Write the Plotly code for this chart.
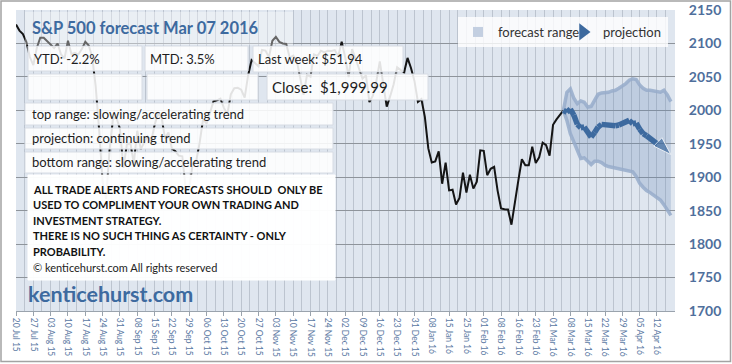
import pandas as pd
import plotly.graph_objects as go

# ---------------- data ----------------
holidays = ["2015-09-07", "2015-11-26", "2015-12-25", "2016-01-01", "2016-01-18", "2016-02-15"]
hist_days = list(pd.bdate_range("2015-07-20", "2016-03-04", freq="C", holidays=holidays))
fc_days = list(pd.bdate_range("2016-03-07", "2016-04-19"))
days = hist_days + fc_days

close = [
    2128.28, 2119.21, 2114.15, 2102.15, 2079.65, 2067.64, 2093.25, 2108.57, 2108.63, 2103.84,
    2098.04, 2093.32, 2099.84, 2083.56, 2077.57, 2104.18, 2084.07, 2086.05, 2083.39, 2091.54,
    2102.44, 2096.92, 2079.61, 2035.73, 1970.89, 1893.21, 1867.61, 1940.51, 1987.66, 1988.87,
    1972.18,
    1913.85, 1948.86, 1951.13, 1921.22, 1969.41, 1942.04, 1952.29, 1961.05, 1953.03, 1978.09,
    1995.31, 1990.20, 1958.03, 1966.97, 1942.74, 1938.76, 1932.24, 1931.34, 1881.77, 1884.09,
    1920.03,
    1923.82, 1951.36, 1987.05, 1979.92, 1995.83, 2013.43, 2014.89, 2017.46, 2003.69, 1994.24,
    2023.86, 2033.11, 2033.66, 2030.77, 2018.94, 2052.51, 2075.15, 2071.18, 2065.89, 2090.35,
    2089.41, 2079.36,
    2104.05, 2109.79, 2102.31, 2099.93, 2099.20, 2078.58, 2081.72, 2075.00, 2045.97, 2023.04,
    2053.19, 2050.44, 2083.58, 2081.24, 2089.17, 2086.59, 2089.14, 2088.87, 2090.11, 2080.41,
    2102.63, 2079.51, 2049.62, 2091.69, 2077.07, 2063.59, 2047.62, 2052.23, 2012.37, 2021.94,
    2043.41, 2073.07, 2041.89, 2005.55, 2021.15, 2038.97, 2064.29, 2060.99, 2056.50, 2078.36,
    2063.36, 2043.94,
    2012.66, 2016.71, 1990.26, 1943.09, 1922.03, 1923.67, 1938.68, 1890.28, 1921.84, 1880.33,
    1881.33, 1859.33, 1868.99, 1906.90, 1877.08, 1903.63, 1882.95, 1893.36, 1940.24,
    1939.38, 1903.03, 1912.53, 1915.45, 1880.05, 1853.44, 1852.21, 1851.86, 1829.08, 1864.78,
    1895.58, 1926.82, 1917.83, 1917.78, 1945.50, 1921.27, 1929.80, 1951.70, 1948.05, 1932.23,
    1978.35, 1986.45, 1993.40, 1999.99,
]

projection = [2000, 1997, 2002, 1993, 1979, 1974, 1975, 1966, 1960, 1967, 1975, 1979, 1978, 1979,
              1977, 1977, 1978, 1980, 1982, 1985, 1980, 1981, 1972, 1965, 1962, 1958, 1956, 1952,
              1947, 1943, 1939, 1934]
range_top = [2000, 2027, 2032, 2018, 2010, 2014, 2012, 2005, 2006, 2016, 2024, 2026, 2026, 2027,
             2029, 2030, 2033, 2036, 2040, 2045, 2047, 2046, 2038, 2033, 2030, 2030, 2029, 2028,
             2027, 2030, 2023, 2013]
range_bottom = [2000, 1985, 1965, 1952, 1940, 1928, 1929, 1923, 1919, 1924, 1924, 1922, 1918, 1916,
                1915, 1914, 1913, 1912, 1911, 1910, 1908, 1901, 1891, 1885, 1880, 1877, 1873, 1869,
                1866, 1859, 1852, 1843]

tick_every = 5
tick_idx = list(range(0, 186, tick_every))
tick_labels = [days[i].strftime("%d %b %y") for i in tick_idx]
y_ticks = list(range(1700, 2151, 50))

# ---------------- layout helpers ----------------
W, H = 732, 364
L, R, T, B = 16, 675, 10, 311


def fx(px):
    return (px - L) / (R - L)


def fy(py):
    return (B - py) / (B - T)


FONT = "Lato"
BLUE = "#3d6a9f"
AXIS_BLUE = "#4f6f9c"

hist_x = list(range(len(close)))
start = len(close) - 1
fc_x = list(range(start, start + len(projection)))

fig = go.Figure()

fig.add_trace(go.Scatter(x=hist_x, y=close, mode="lines",
                         line=dict(color="#151515", width=2), showlegend=False, hoverinfo="skip"))

fig.add_trace(go.Scatter(x=fc_x, y=range_top, mode="lines",
                         line=dict(color="rgba(150,172,202,0.85)", width=3.5),
                         showlegend=False, hoverinfo="skip"))
fig.add_trace(go.Scatter(x=fc_x, y=range_bottom, mode="lines", fill="tonexty",
                         fillcolor="rgba(95,130,180,0.25)",
                         line=dict(color="rgba(150,172,202,0.85)", width=3.5),
                         showlegend=False, hoverinfo="skip"))

sizes = [0] * (len(projection) - 1) + [19]
fig.add_trace(go.Scatter(x=fc_x, y=projection, mode="lines+markers",
                         line=dict(color=BLUE, width=5.5),
                         marker=dict(symbol="arrow", angleref="previous", size=sizes, color=BLUE),
                         showlegend=False, hoverinfo="skip"))

# legend entries
fig.add_trace(go.Scatter(x=[None], y=[None], mode="markers", name="forecast range",
                         marker=dict(symbol="square", size=10, color="#c3cfe1")))
fig.add_trace(go.Scatter(x=[None], y=[None], mode="markers", name="projection",
                         marker=dict(symbol="triangle-right", size=15, color=BLUE)))

shapes = []
annotations = []


def box(x0, y0, x1, y1, fill="rgba(255,255,255,0.88)", line="rgba(215,220,228,1)"):
    shapes.append(dict(type="rect", xref="paper", yref="paper", layer="above",
                       x0=fx(x0), x1=fx(x1), y0=fy(y1), y1=fy(y0),
                       fillcolor=fill, line=dict(color=line, width=1)))


def text(x, y, s, size=13, color="#1e1e1e", bold=False):
    annotations.append(dict(xref="paper", yref="paper", x=fx(x), y=fy(y), text=s,
                            showarrow=False, xanchor="left", yanchor="middle",
                            font=dict(family=FONT, size=size, color=color,
                                      weight="bold" if bold else "normal")))


# title box
box(25, 12, 293, 45, fill="rgba(255,255,255,0.35)", line="rgba(0,0,0,0)")
text(30, 28, "S&P 500 forecast Mar 07 2016", size=16.5, color=BLUE, bold=True)

box(28, 46, 142, 71)
box(145, 46, 248, 71)
box(253, 46, 403, 72)
box(28, 74, 142, 100)
box(147, 74, 258, 100)
box(267, 74, 428, 100)
box(25, 103, 333, 125)
box(25, 128, 333, 149)
box(25, 152, 333, 173)
box(28, 175, 335, 280, fill="rgba(255,255,255,0.97)", line="rgba(255,255,255,1)")

text(32, 59, "YTD: -2.2%")
text(148, 59, "MTD: 3.5%")
text(256, 59, "Last week: $51.94")
text(270, 87, "Close:  $1,999.99", size=15)
text(30, 114, "top range: slowing/accelerating trend")
text(30, 138, "projection: continuing trend")
text(30, 162, "bottom range: slowing/accelerating trend")

disclaimer = [
    "ALL TRADE ALERTS AND FORECASTS SHOULD  ONLY BE",
    "USED TO COMPLIMENT YOUR OWN TRADING AND",
    "INVESTMENT STRATEGY.",
    "THERE IS NO SUCH THING AS CERTAINTY - ONLY",
    "PROBABILITY.",
]
for i, line in enumerate(disclaimer):
    text(31, 189 + i * 15.6, line, size=11, color="#111111", bold=True)
text(31, 267, "© kenticehurst.com All rights reserved", size=11, color="#222222")
text(26, 294, "kenticehurst.com", size=21.5, color=BLUE, bold=True)

# outer border
shapes.append(dict(type="rect", xref="paper", yref="paper", layer="above",
                   x0=fx(1), x1=fx(730.5), y0=fy(361.5), y1=fy(1),
                   line=dict(color="#a3a3a3", width=1.5), fillcolor="rgba(0,0,0,0)"))

fig.update_layout(
    width=W, height=H,
    margin=dict(l=L, r=W - R, t=T, b=H - B, autoexpand=False),
    paper_bgcolor="white",
    plot_bgcolor="#dfe6ef",
    font=dict(family=FONT),
    shapes=shapes,
    annotations=annotations,
    legend=dict(orientation="h", x=fx(458), y=fy(17), xanchor="left", yanchor="top",
                traceorder="normal", entrywidth=60, entrywidthmode="pixels",
                bgcolor="rgba(255,255,255,0.8)", font=dict(size=13, color="#333333", family=FONT),
                itemclick=False, tracegroupgap=0),
)

fig.update_xaxes(
    range=[0, 190.2], tickmode="array", tickvals=tick_idx, ticktext=tick_labels,
    tickangle=90, tickfont=dict(size=8.5, color="#5b79a3", family=FONT),
    showgrid=True, gridcolor="#bcc4cf", gridwidth=1,
    minor=dict(tickmode="linear", tick0=0, dtick=2.5, showgrid=True, gridcolor="#bcc4cf", ticks=""),
    ticks="outside", ticklen=4, tickcolor="#9aa3ad",
    showline=True, linecolor="#9aa3ad", linewidth=1, zeroline=False,
)
fig.update_yaxes(
    side="right", range=[1700, 2150], tickmode="array", tickvals=y_ticks,
    tickfont=dict(size=14, color=AXIS_BLUE, family=FONT, weight="bold"),
    showgrid=True, gridcolor="#8e949b", gridwidth=1,
    ticks="outside", ticklen=10, tickcolor="rgba(0,0,0,0)",
    zeroline=False, showline=False,
)

fig.write_html("out.html", config={"displayModeBar": False},
               post_script="document.body.style.margin='0px';")
